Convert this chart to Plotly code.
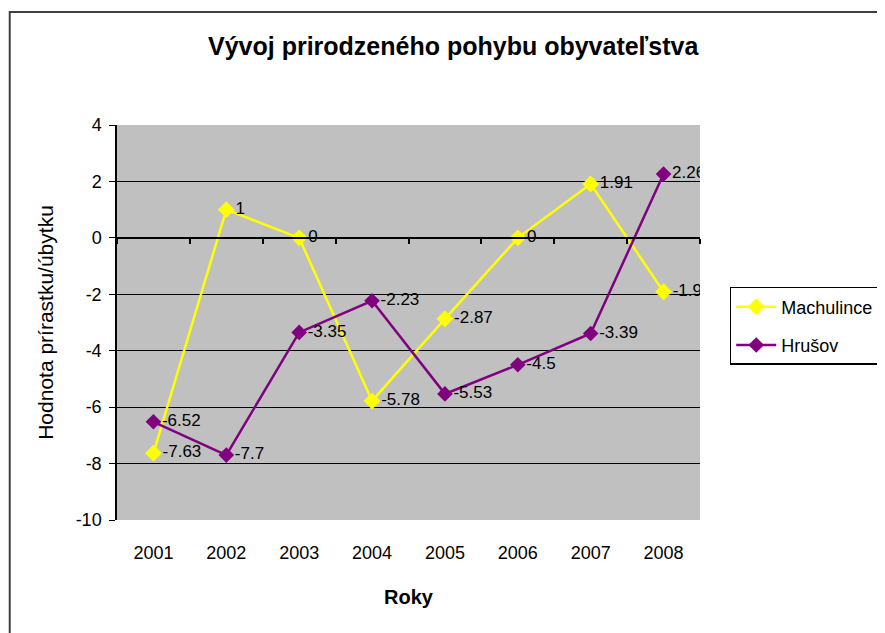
import plotly.graph_objects as go

# data
years = ['2001', '2002', '2003', '2004', '2005', '2006', '2007', '2008']
machulince = [-7.63, 1, 0, -5.78, -2.87, 0, 1.91, -1.91]
hrusov = [-6.52, -7.7, -3.35, -2.23, -5.53, -4.5, -3.39, 2.26]
y_ticks = [4, 2, 0, -2, -4, -6, -8, -10]

font = 'Liberation Sans, Arial, sans-serif'

fig = go.Figure()

fig.add_trace(go.Scatter(
    x=years, y=machulince, name='Machulince', legendgroup='a',
    mode='lines+markers+text',
    line=dict(color='#FFFF00', width=2.5),
    marker=dict(symbol='diamond', size=13, color='#FFFF00'),
    text=[str(v) for v in machulince], textposition='middle right',
    textfont=dict(family=font, size=17, color='black'),
))
fig.add_trace(go.Scatter(
    x=years, y=hrusov, name='Hrušov', legendgroup='b',
    mode='lines+markers+text',
    line=dict(color='#800080', width=2.5),
    marker=dict(symbol='diamond', size=12, color='#800080'),
    text=[str(v) for v in hrusov], textposition='middle right',
    textfont=dict(family=font, size=17, color='black'),
))
# empty trace so the zero-crossing category axis gets drawn
fig.add_trace(go.Scatter(x=[], y=[], xaxis='x2', showlegend=False, hoverinfo='skip'))

fig.update_layout(
    width=885, height=633,
    margin=dict(l=109, r=193, t=117, b=121),
    paper_bgcolor='white',
    plot_bgcolor='#C0C0C0',
    font=dict(family=font, size=17, color='black'),
    title=dict(text='<b>Vývoj prirodzeného pohybu obyvateľstva</b>',
               x=0.503, xanchor='center', y=0.94, yanchor='middle',
               font=dict(size=25, color='black')),
    xaxis=dict(
        type='category', range=[-0.5, 7.5],
        showgrid=False, showline=False, ticks='',
        tickfont=dict(size=18), ticklabelstandoff=20,
        title=dict(text='<b>Roky</b>', font=dict(size=20), standoff=27),
    ),
    xaxis2=dict(
        overlaying='x', anchor='free', position=10 / 14,
        range=[-0.5, 7.5], showgrid=False, zeroline=False,
        showline=True, linecolor='black', linewidth=1.5,
        tickmode='array', tickvals=[-0.5 + i for i in range(9)],
        ticks='outside', ticklen=5, tickcolor='black', tickwidth=1.5,
        showticklabels=False,
    ),
    yaxis=dict(
        range=[-10, 4],
        tickmode='array', tickvals=y_ticks, ticktext=[str(v) for v in y_ticks],
        showgrid=True, gridcolor='black', gridwidth=1.2,
        zeroline=False,
        showline=True, linecolor='black', linewidth=1.5,
        ticks='outside', ticklen=6, tickcolor='black',
        tickfont=dict(size=18), ticklabelstandoff=4,
        title=dict(text='Hodnota prírastku/úbytku', font=dict(size=21), standoff=16),
    ),
    legend=dict(
        x=1.051, xanchor='left', y=0.59, yanchor='top',
        bordercolor='black', borderwidth=1.5, bgcolor='white',
        font=dict(size=18), itemwidth=40,
        traceorder='grouped', tracegroupgap=12,
    ),
    shapes=[dict(type='rect', xref='paper', yref='paper',
                 x0=-0.184, x1=1.5, y0=-0.4, y1=1.286,
                 line=dict(color='#404040', width=2), layer='below')],
)

fig.write_html('out.html')
